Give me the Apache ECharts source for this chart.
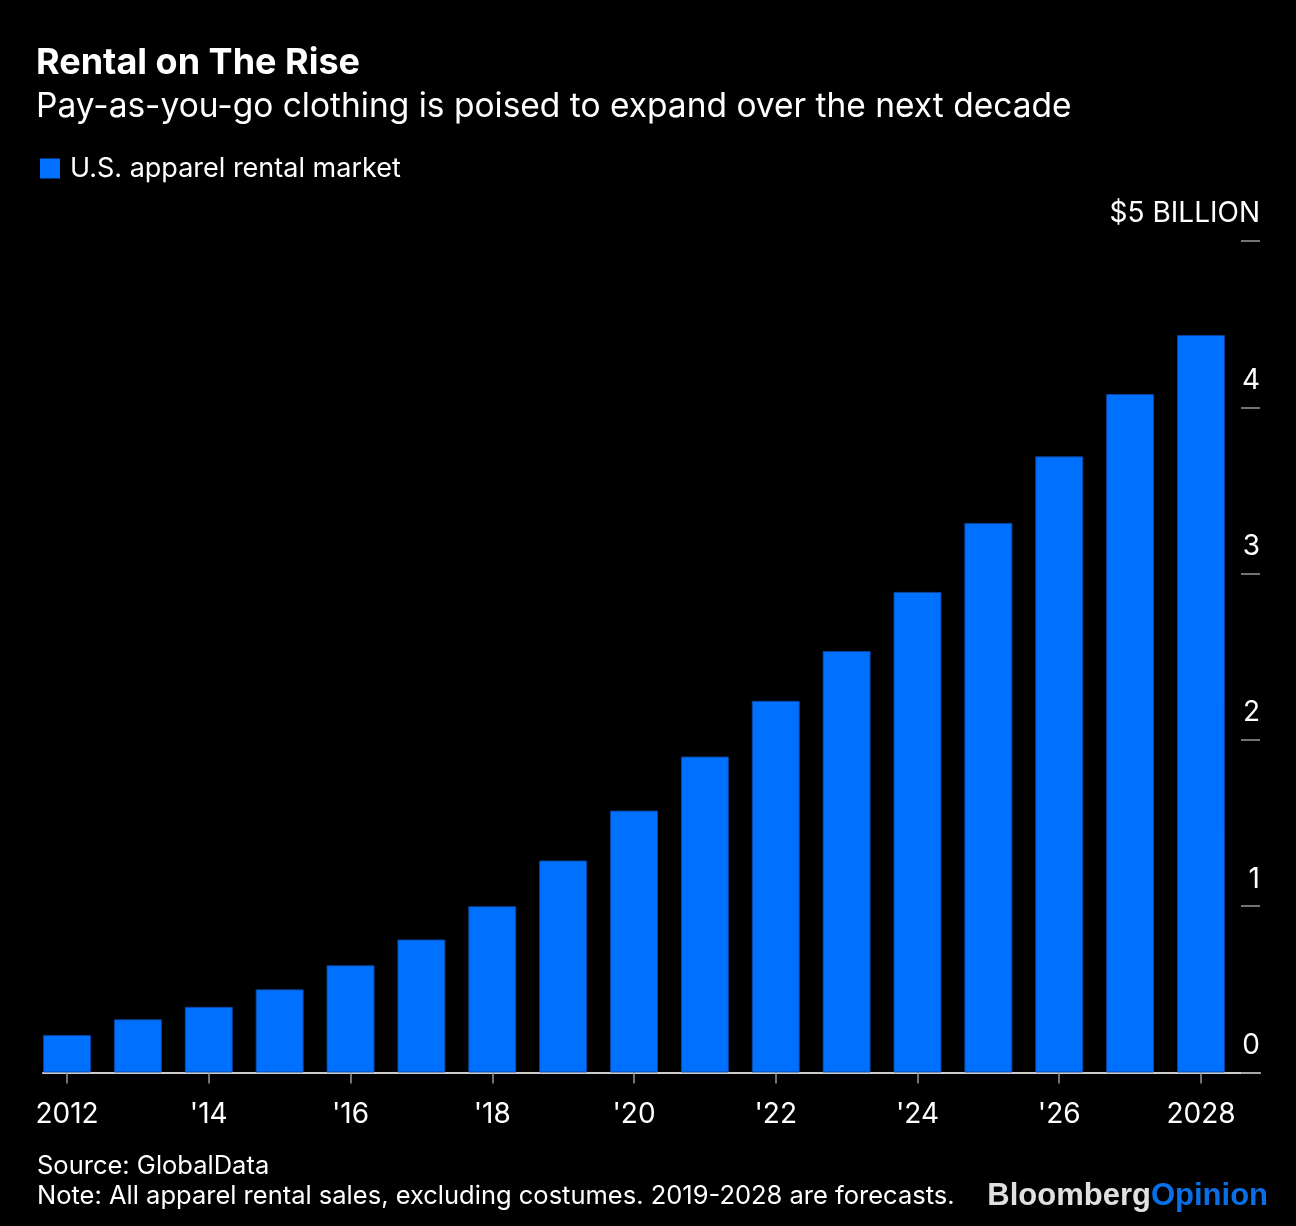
<!DOCTYPE html>
<html>
<head>
<meta charset="utf-8">
<script src="https://cdn.jsdelivr.net/npm/echarts@6/dist/echarts.min.js"></script>
<style>
html,body{margin:0;padding:0;background:#000;}
#chart{width:1296px;height:1226px;}
</style>
</head>
<body>
<div id="chart"></div>
<script>
const years = ['2012','2013','2014','2015','2016','2017','2018','2019','2020','2021','2022','2023','2024','2025','2026','2027','2028'];
const xTickLabels = ['2012','','\'14','','\'16','','\'18','','\'20','','\'22','','\'24','','\'26','','2028'];
const rentalMarket = [0.225,0.32,0.395,0.50,0.645,0.80,1.0,1.275,1.575,1.90,2.235,2.535,2.89,3.305,3.705,4.08,4.435];
const yTickLabels = ['0','1','2','3','4','$5 BILLION'];

const FONT = 'Inter, "Liberation Sans", Arial, sans-serif';
const LOGO_FONT = '"Liberation Sans", Arial, sans-serif';
const chart = echarts.init(document.getElementById('chart'));
chart.setOption({
  backgroundColor: '#000',
  animation: false,
  textStyle: {fontFamily: FONT},
  title: [
    {text: 'Rental on The Rise', left: 36, top: 45, padding: 0,
     textStyle: {color: '#fff', fontSize: 36, fontWeight: 'bold', lineHeight: 36, fontFamily: FONT}},
    {text: 'Pay-as-you-go clothing is poised to expand over the next decade', left: 36, top: 90, padding: 0,
     textStyle: {color: '#fff', fontSize: 33.5, fontWeight: 'normal', lineHeight: 33.5, fontFamily: FONT}},
    {text: 'Source: GlobalData', left: 37, top: 1154, padding: 0,
     textStyle: {color: '#fff', fontSize: 25.5, fontWeight: 'normal', lineHeight: 25.5, fontFamily: FONT}},
    {text: 'Note: All apparel rental sales, excluding costumes. 2019-2028 are forecasts.', left: 37, top: 1184, padding: 0,
     textStyle: {color: '#fff', fontSize: 25.5, fontWeight: 'normal', lineHeight: 25.5, fontFamily: FONT}},
    {text: '{a|Bloomberg}{b|Opinion}', right: 28, top: 1181, padding: 0,
     textStyle: {fontFamily: LOGO_FONT, rich: {
       a: {color: '#e0e0e0', fontSize: 31, fontWeight: 'bold', fontFamily: LOGO_FONT},
       b: {color: '#0a6fe6', fontSize: 31, fontWeight: 'bold', fontFamily: LOGO_FONT}
     }}}
  ],
  legend: {
    left: 40, top: 155, padding: 0,
    icon: 'rect', itemWidth: 20, itemHeight: 20,
    itemStyle: {borderWidth: 0},
    textStyle: {color: '#fff', fontSize: 27, padding: [0,0,0,5], fontFamily: FONT},
    data: ['U.S. apparel rental market']
  },
  grid: [
    {left: 31.6, right: 59.6, top: 241, bottom: 153.5},
    {left: 43, right: 36, top: 241, bottom: 153.5}
  ],
  xAxis: [
    {type: 'category', gridIndex: 0, data: years,
     axisLine: {show: false},
     axisTick: {show: true, alignWithLabel: true, length: 11, interval: function (i) { return i % 2 === 0; },
                lineStyle: {color: '#999', width: 1.5}},
     axisLabel: {interval: function (i) { return i % 2 === 0; }, color: '#fff', fontSize: 28, margin: 28, fontFamily: FONT,
                 formatter: function (v, i) { return xTickLabels[i]; }}},
    {type: 'value', gridIndex: 1, min: 0, max: 1,
     axisLine: {show: true, onZero: false, lineStyle: {color: '#ccc', width: 2}},
     axisTick: {show: false}, axisLabel: {show: false}, splitLine: {show: false}}
  ],
  yAxis: [
    {type: 'value', gridIndex: 0, position: 'right', offset: 23.6, min: 0, max: 5, interval: 1,
     axisLine: {show: false},
     axisTick: {show: true, inside: true, length: 19, lineStyle: {color: '#999', width: 1.5}},
     splitLine: {show: false},
     axisLabel: {inside: true, margin: 0, color: '#fff', fontSize: 28, fontFamily: FONT, verticalAlign: 'middle', lineHeight: 54,
                 formatter: function (v) { return yTickLabels[Math.round(v)] + '\n '; }}},
    {type: 'value', gridIndex: 1, show: false, min: 0, max: 5}
  ],
  series: [
    {name: 'U.S. apparel rental market', type: 'bar', xAxisIndex: 0, yAxisIndex: 0,
     data: rentalMarket, barWidth: 48,
     itemStyle: {color: '#0070ff', borderColor: 'rgba(10,70,160,0.9)', borderWidth: 1}}
  ]
});
</script>
</body>
</html>
